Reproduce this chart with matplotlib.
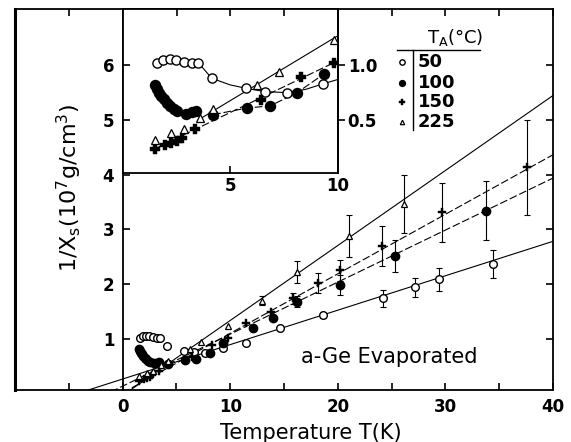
import numpy as np
import matplotlib
matplotlib.use("Agg")
import matplotlib.pyplot as plt
from matplotlib.lines import Line2D

plt.rcParams['font.family'] = ['DejaVu Sans']

# annealing temperatures (legend)
anneal = ['50', '100', '150', '225']

# T_A = 50 C  (open circles)
t50 = [1.60, 1.86, 2.22, 2.48, 2.84, 3.21, 3.52, 4.14, 5.72, 6.59, 7.63, 9.30,
       11.5, 14.6, 18.66, 24.24, 27.13, 29.45, 34.47]
y50 = [1.02, 1.05, 1.06, 1.05, 1.03, 1.02, 1.02, 0.88, 0.79, 0.76, 0.75, 0.83,
       0.93, 1.20, 1.44, 1.74, 1.94, 2.09, 2.37]
e50 = [0, 0, 0, 0, 0, 0, 0, 0, 0, 0, 0, 0,
       0, 0, 0.06, 0.15, 0.18, 0.21, 0.26]

# T_A = 100 C  (filled circles)
t100 = [1.50, 1.58, 1.68, 1.80, 1.93, 2.07, 2.22, 2.40, 2.53, 2.94, 3.21, 3.41,
        4.19, 5.76, 6.85, 8.10, 9.35, 12.15, 14.0, 16.19, 20.21, 25.27, 33.8]
y100 = [0.82, 0.78, 0.75, 0.72, 0.69, 0.66, 0.63, 0.60, 0.58, 0.56, 0.57, 0.58,
        0.55, 0.61, 0.63, 0.75, 0.92, 1.21, 1.38, 1.68, 1.99, 2.51, 3.34]
e100 = [0, 0, 0, 0, 0, 0, 0, 0, 0, 0, 0, 0,
        0, 0, 0, 0, 0, 0, 0, 0.10, 0.18, 0.29, 0.54]

# T_A = 150 C  (plus)
t150 = [1.50, 1.95, 2.25, 2.50, 2.75, 3.36, 6.43, 8.30, 9.80,
        11.5, 13.8, 15.87, 18.14, 20.21, 24.09, 29.67, 37.58]
y150 = [0.24, 0.27, 0.29, 0.31, 0.34, 0.42, 0.68, 0.89, 1.02,
        1.29, 1.50, 1.74, 2.02, 2.25, 2.70, 3.31, 4.13]
e150 = [0, 0, 0, 0, 0, 0, 0, 0, 0,
        0, 0, 0.10, 0.18, 0.20, 0.36, 0.54, 0.86]

# T_A = 225 C  (open triangles)
t225 = [1.50, 2.25, 2.87, 3.57, 4.19, 6.23, 7.24, 9.80, 13.0, 16.19, 21.08, 26.17]
y225 = [0.32, 0.38, 0.42, 0.52, 0.60, 0.82, 0.94, 1.23, 1.70, 2.23, 2.88, 3.46]
e225 = [0, 0, 0, 0, 0, 0, 0, 0, 0.08, 0.20, 0.38, 0.53]

# straight lines drawn through the high-T data (main plot)
fit_slope = [0.0628, 0.0949, 0.1086, 0.1368]
fit_icpt = [0.27, 0.14, 0.017, -0.03]
fit_t0 = [-4, -2, 0, 0]
fit_t1 = [40, 40, 40, 40]

# lines drawn in the inset
ins_slope = [0.094, 0.118]
ins_icpt = [0.10, 0.088]
ins_t0 = [1.47, 3.5]
ins_open_t = [3.52, 4.14, 5.0, 5.72, 6.59, 7.63, 8.5, 9.30, 10.0]
ins_open_y = [1.02, 0.88, 0.82, 0.79, 0.76, 0.75, 0.78, 0.83, 0.87]
ins_fill_t = [4.2, 5.76, 6.85, 8.10, 9.35]
ins_fill_y = [0.55, 0.61, 0.63, 0.75, 0.92]

W, H = 571, 442
fig = plt.figure(figsize=(W / 100, H / 100), dpi=100)

def fx(px):
    return px / W

def fy(py):
    return 1 - py / H

ax = fig.add_axes([fx(15), fy(390), fx(553) - fx(15), fy(9) - fy(390)])
ax.set_xlim(-10, 40)
ax.set_ylim(0.07, 7.02)

series = [(t50, y50, e50), (t100, y100, e100), (t150, y150, e150), (t225, y225, e225)]
mstyle = [dict(marker='o', mfc='white', mec='k', ms=5.5, mew=1.0),
          dict(marker='o', mfc='k', mec='k', ms=6, mew=1.0),
          dict(marker='P', mfc='k', mec='k', ms=5.5, mew=0.3),
          dict(marker='^', mfc='white', mec='k', ms=4.5, mew=0.9)]
lstyle = ['-', (0, (7, 2.5)), (0, (7, 2.5)), '-']

for i in range(4):
    tt = np.linspace(fit_t0[i], fit_t1[i], 2)
    ax.plot(tt, fit_slope[i] * tt + fit_icpt[i], color='k', lw=0.8, ls=lstyle[i], zorder=2)

for (t, y, e), ms in zip(series, mstyle):
    t, y, e = np.array(t), np.array(y), np.array(e)
    m = e > 0
    ax.errorbar(t[m], y[m], yerr=e[m], fmt='none', ecolor='k', elinewidth=0.8,
                capsize=2.5, capthick=0.8, zorder=3)
    ax.plot(t, y, ls='none', zorder=4, **ms)

# axes styling
ax.spines['left'].set_position(('data', 0))
for s in ['top', 'right', 'bottom', 'left']:
    ax.spines[s].set_linewidth(1.3)
ax.axvline(-10, color='k', lw=2.2, clip_on=False, zorder=5)
ax.set_xticks([0, 10, 20, 30, 40])
ax.set_xticks([-5, 5, 15, 25, 35], minor=True)
ax.set_yticks([1, 2, 3, 4, 5, 6])
ax.tick_params(which='both', direction='in', top=True, right=True, length=5, width=1.2,
               labelsize=12, pad=6)
for lab in ax.get_xticklabels() + ax.get_yticklabels():
    lab.set_fontweight('bold')

ax.text(17.5, -0.72, 'Temperature T(K)', fontsize=15, ha='center', va='center',
        transform=ax.transData, clip_on=False)
ax.text(-4.9, 3.75, r'1/X$_\mathregular{s}$(10$^\mathregular{7}$g/cm$^\mathregular{3}$)',
        fontsize=16, rotation=90, ha='center', va='center')
ax.text(24.8, 0.67, 'a-Ge Evaporated', fontsize=15, ha='center', va='center')

# legend drawn by hand
fig.text(fx(455), fy(38), r'T$_\mathregular{A}$(°C)', fontsize=13, ha='center', va='center')
fig.add_artist(Line2D([fx(397), fx(480)], [fy(50), fy(50)], color='k', lw=1.0))
fig.add_artist(Line2D([fx(413), fx(413)], [fy(50), fy(130)], color='k', lw=1.0))
leg_y = [62, 83, 102, 122]
for lab, ms, yy in zip(anneal, mstyle, leg_y):
    small = dict(ms)
    small['ms'] = ms['ms'] * 0.7
    fig.add_artist(Line2D([fx(402)], [fy(yy)], ls='none', **small))
    fig.text(fx(418), fy(yy), lab, fontsize=13, fontweight='bold', ha='left', va='center')

# inset
ins = fig.add_axes([fx(122.7), fy(173), fx(338) - fx(122.7), fy(9) - fy(173)])
ins.set_facecolor('white')
ins.set_zorder(5)
ins.set_xlim(0, 10)
ins.set_ylim(0.02, 1.51)

ins.plot(ins_open_t, ins_open_y, color='k', lw=0.8, zorder=2)
ins.plot(ins_fill_t, ins_fill_y, color='k', lw=0.8, ls=(0, (7, 2.5)), zorder=2)
for k, ls in zip(range(2), [(0, (7, 2.5)), '-']):
    tt = np.linspace(ins_t0[k], 10, 2)
    ins.plot(tt, ins_slope[k] * tt + ins_icpt[k], color='k', lw=0.8, ls=ls, zorder=2)

for (t, y, e), ms in zip(series, mstyle):
    big = dict(ms)
    big['ms'] = ms['ms'] * 1.2
    ins.plot(t, y, ls='none', zorder=4, clip_on=True, **big)

for s in ['top', 'right', 'bottom', 'left']:
    ins.spines[s].set_linewidth(1.3)
ins.set_xticks([5, 10])
ins.set_xticks([2.5, 7.5], minor=True)
ins.tick_params(axis='x', which='both', direction='in', top=True, bottom=True,
                length=5, width=1.2, labelsize=12, pad=3)
ins.tick_params(axis='x', which='minor', bottom=False)
ins.set_yticks([0.5, 1.0])
ins.tick_params(axis='y', direction='in', left=True, right=False, labelleft=False,
                length=5, width=1.2)
for lab in ins.get_xticklabels():
    lab.set_fontweight('bold')

sec = ins.secondary_yaxis('right')
sec.set_yticks([0.5, 1.0])
sec.set_yticklabels(['0.5', '1.0'])
sec.tick_params(direction='out', length=5, width=1.2, labelsize=12, pad=2)
sec.spines['right'].set_linewidth(1.3)
for lab in sec.get_yticklabels():
    lab.set_fontweight('bold')

fig.savefig('out.png', dpi=100)
